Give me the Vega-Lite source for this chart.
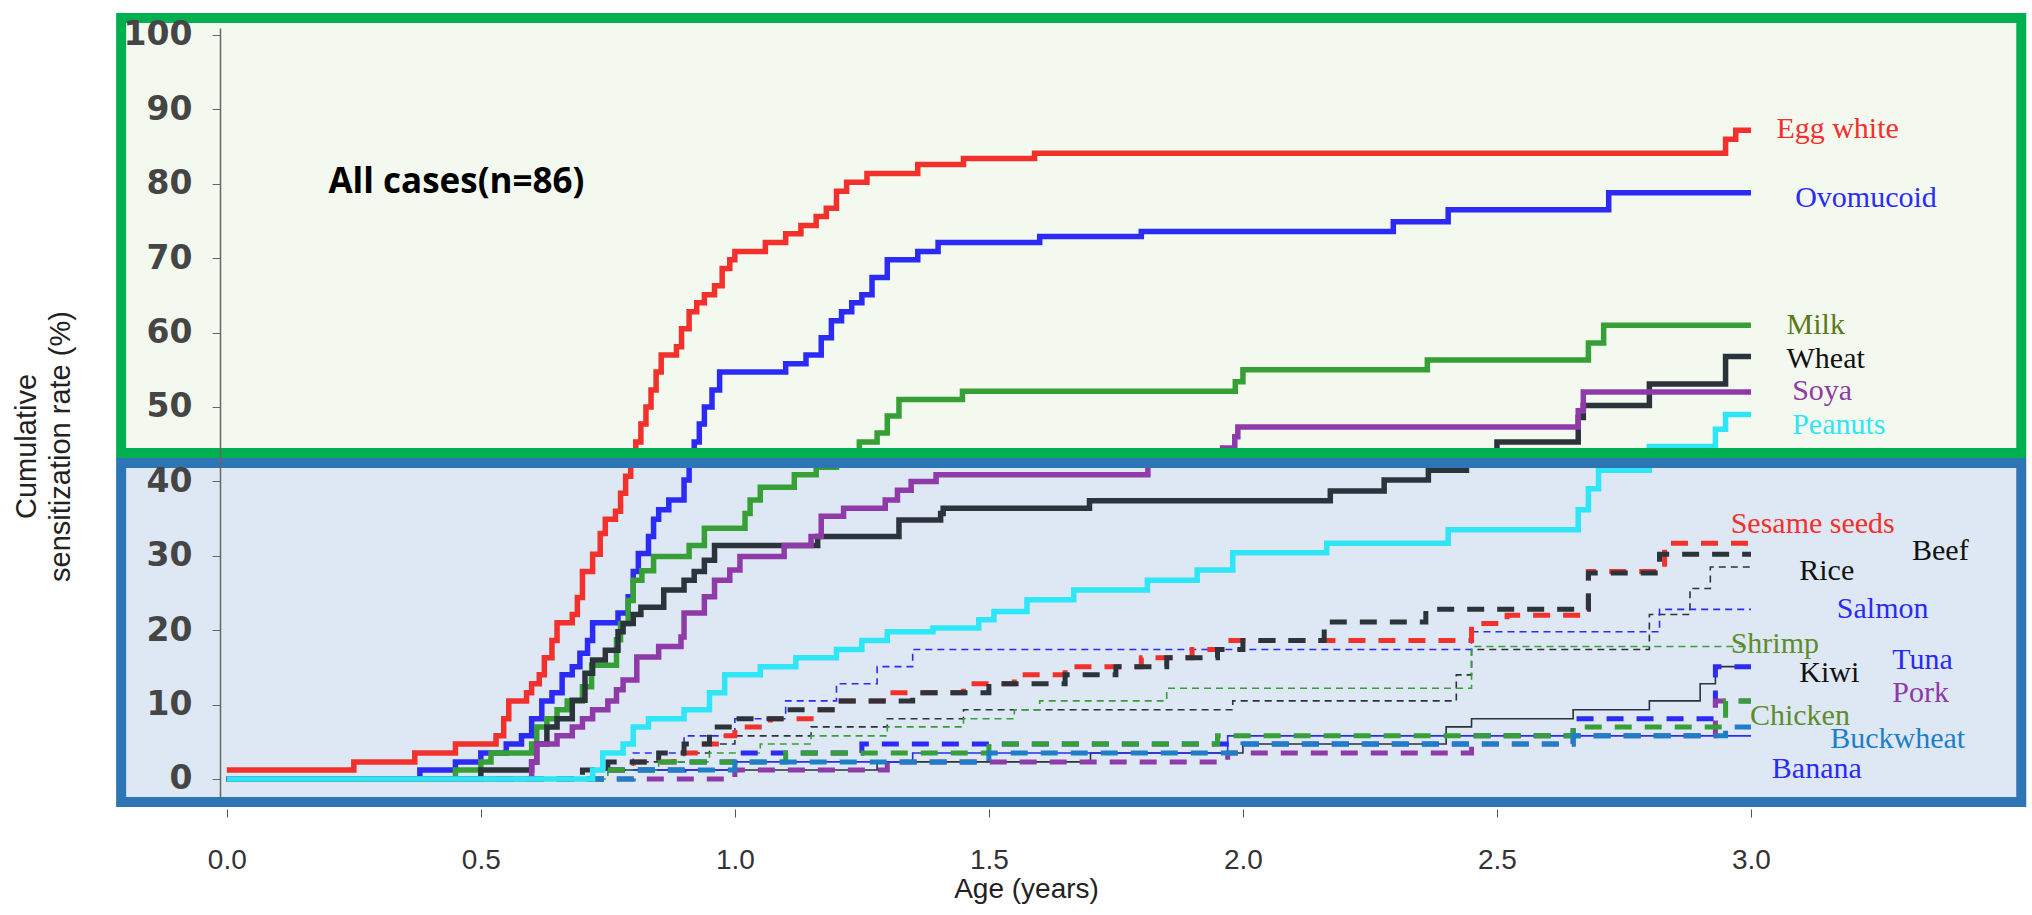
{
  "$schema": "https://vega.github.io/schema/vega-lite/v6.json",
  "width": 1785,
  "height": 769,
  "autosize": {"type": "none"},
  "padding": {"left": 220, "top": 28, "right": 27, "bottom": 118},
  "background": "white",
  "config": {"view": {"stroke": null}},
  "datasets": {
    "curves": [
      {"food":"Egg white","age":0,"rate":1.2},{"food":"Egg white","age":0.25,"rate":2.3},{"food":"Egg white","age":0.37,"rate":3.5},{"food":"Egg white","age":0.45,"rate":4.7},{"food":"Egg white","age":0.53,"rate":5.8},{"food":"Egg white","age":0.545,"rate":8.1},{"food":"Egg white","age":0.555,"rate":10.5},{"food":"Egg white","age":0.59,"rate":11.6},{"food":"Egg white","age":0.6,"rate":12.8},{"food":"Egg white","age":0.615,"rate":14},{"food":"Egg white","age":0.625,"rate":16.3},{"food":"Egg white","age":0.64,"rate":18.6},{"food":"Egg white","age":0.65,"rate":21},{"food":"Egg white","age":0.68,"rate":22.1},{"food":"Egg white","age":0.69,"rate":24.4},{"food":"Egg white","age":0.7,"rate":27.9},{"food":"Egg white","age":0.72,"rate":30.2},{"food":"Egg white","age":0.735,"rate":33},{"food":"Egg white","age":0.745,"rate":34.9},{"food":"Egg white","age":0.765,"rate":36},{"food":"Egg white","age":0.775,"rate":38.4},{"food":"Egg white","age":0.785,"rate":40.7},{"food":"Egg white","age":0.795,"rate":43},{"food":"Egg white","age":0.805,"rate":45.3},{"food":"Egg white","age":0.815,"rate":47.7},{"food":"Egg white","age":0.825,"rate":50},{"food":"Egg white","age":0.835,"rate":52.3},{"food":"Egg white","age":0.845,"rate":54.7},{"food":"Egg white","age":0.855,"rate":57},{"food":"Egg white","age":0.885,"rate":58.1},{"food":"Egg white","age":0.895,"rate":60.5},{"food":"Egg white","age":0.91,"rate":62.8},{"food":"Egg white","age":0.925,"rate":64},{"food":"Egg white","age":0.94,"rate":65.1},{"food":"Egg white","age":0.96,"rate":66.3},{"food":"Egg white","age":0.975,"rate":68.6},{"food":"Egg white","age":0.99,"rate":69.8},{"food":"Egg white","age":1.0,"rate":70.9},{"food":"Egg white","age":1.06,"rate":72.1},{"food":"Egg white","age":1.1,"rate":73.3},{"food":"Egg white","age":1.13,"rate":74.4},{"food":"Egg white","age":1.16,"rate":75.6},{"food":"Egg white","age":1.18,"rate":76.7},{"food":"Egg white","age":1.2,"rate":79},{"food":"Egg white","age":1.22,"rate":80.2},{"food":"Egg white","age":1.26,"rate":81.4},{"food":"Egg white","age":1.36,"rate":82.6},{"food":"Egg white","age":1.45,"rate":83.4},{"food":"Egg white","age":1.59,"rate":84.1},{"food":"Egg white","age":2.95,"rate":86},{"food":"Egg white","age":2.97,"rate":87.2},{"food":"Egg white","age":3.0,"rate":87.2},

      {"food":"Ovomucoid","age":0,"rate":0},{"food":"Ovomucoid","age":0.38,"rate":1.2},{"food":"Ovomucoid","age":0.45,"rate":2.3},{"food":"Ovomucoid","age":0.5,"rate":3.5},{"food":"Ovomucoid","age":0.55,"rate":4.7},{"food":"Ovomucoid","age":0.58,"rate":5.8},{"food":"Ovomucoid","age":0.6,"rate":8.1},{"food":"Ovomucoid","age":0.62,"rate":10.5},{"food":"Ovomucoid","age":0.64,"rate":11.6},{"food":"Ovomucoid","age":0.66,"rate":14},{"food":"Ovomucoid","age":0.68,"rate":15.1},{"food":"Ovomucoid","age":0.695,"rate":16.9},{"food":"Ovomucoid","age":0.71,"rate":18.6},{"food":"Ovomucoid","age":0.72,"rate":21},{"food":"Ovomucoid","age":0.77,"rate":22.3},{"food":"Ovomucoid","age":0.79,"rate":24.5},{"food":"Ovomucoid","age":0.8,"rate":27.9},{"food":"Ovomucoid","age":0.81,"rate":30.3},{"food":"Ovomucoid","age":0.83,"rate":32.6},{"food":"Ovomucoid","age":0.84,"rate":34.9},{"food":"Ovomucoid","age":0.85,"rate":36.2},{"food":"Ovomucoid","age":0.87,"rate":37.5},{"food":"Ovomucoid","age":0.9,"rate":40.2},{"food":"Ovomucoid","age":0.91,"rate":43},{"food":"Ovomucoid","age":0.92,"rate":45.3},{"food":"Ovomucoid","age":0.93,"rate":47.7},{"food":"Ovomucoid","age":0.94,"rate":50},{"food":"Ovomucoid","age":0.955,"rate":52.3},{"food":"Ovomucoid","age":0.97,"rate":54.7},{"food":"Ovomucoid","age":1.1,"rate":55.8},{"food":"Ovomucoid","age":1.14,"rate":57},{"food":"Ovomucoid","age":1.17,"rate":59.3},{"food":"Ovomucoid","age":1.19,"rate":61.6},{"food":"Ovomucoid","age":1.21,"rate":62.8},{"food":"Ovomucoid","age":1.23,"rate":64},{"food":"Ovomucoid","age":1.25,"rate":65.1},{"food":"Ovomucoid","age":1.27,"rate":67.4},{"food":"Ovomucoid","age":1.3,"rate":69.8},{"food":"Ovomucoid","age":1.36,"rate":70.9},{"food":"Ovomucoid","age":1.4,"rate":72.1},{"food":"Ovomucoid","age":1.6,"rate":72.9},{"food":"Ovomucoid","age":1.8,"rate":73.6},{"food":"Ovomucoid","age":2.296,"rate":74.9},{"food":"Ovomucoid","age":2.404,"rate":76.5},{"food":"Ovomucoid","age":2.72,"rate":78.8},{"food":"Ovomucoid","age":3.0,"rate":78.8},

      {"food":"Milk","age":0,"rate":0},{"food":"Milk","age":0.45,"rate":1.2},{"food":"Milk","age":0.5,"rate":2.3},{"food":"Milk","age":0.52,"rate":3.5},{"food":"Milk","age":0.6,"rate":4.7},{"food":"Milk","age":0.61,"rate":7},{"food":"Milk","age":0.63,"rate":8.1},{"food":"Milk","age":0.65,"rate":9.3},{"food":"Milk","age":0.67,"rate":10.5},{"food":"Milk","age":0.7,"rate":12.4},{"food":"Milk","age":0.718,"rate":15.3},{"food":"Milk","age":0.767,"rate":18.7},{"food":"Milk","age":0.775,"rate":20.9},{"food":"Milk","age":0.79,"rate":24},{"food":"Milk","age":0.8,"rate":26.7},{"food":"Milk","age":0.817,"rate":28},{"food":"Milk","age":0.84,"rate":29.9},{"food":"Milk","age":0.91,"rate":31.4},{"food":"Milk","age":0.94,"rate":33.7},{"food":"Milk","age":1.02,"rate":35.7},{"food":"Milk","age":1.03,"rate":37.5},{"food":"Milk","age":1.05,"rate":39.2},{"food":"Milk","age":1.117,"rate":40.9},{"food":"Milk","age":1.16,"rate":41.9},{"food":"Milk","age":1.2,"rate":43},{"food":"Milk","age":1.245,"rate":45.3},{"food":"Milk","age":1.28,"rate":46.5},{"food":"Milk","age":1.3,"rate":48.8},{"food":"Milk","age":1.323,"rate":51},{"food":"Milk","age":1.448,"rate":52.1},{"food":"Milk","age":1.985,"rate":53.4},{"food":"Milk","age":2.0,"rate":55},{"food":"Milk","age":2.363,"rate":56.3},{"food":"Milk","age":2.68,"rate":58.6},{"food":"Milk","age":2.71,"rate":61},{"food":"Milk","age":3.0,"rate":61},

      {"food":"Wheat","age":0,"rate":0},{"food":"Wheat","age":0.5,"rate":1.2},{"food":"Wheat","age":0.6,"rate":2.3},{"food":"Wheat","age":0.61,"rate":4.7},{"food":"Wheat","age":0.63,"rate":7},{"food":"Wheat","age":0.65,"rate":8.1},{"food":"Wheat","age":0.68,"rate":10.6},{"food":"Wheat","age":0.705,"rate":14.2},{"food":"Wheat","age":0.72,"rate":16},{"food":"Wheat","age":0.745,"rate":17.3},{"food":"Wheat","age":0.77,"rate":19.8},{"food":"Wheat","age":0.78,"rate":20.9},{"food":"Wheat","age":0.8,"rate":22.1},{"food":"Wheat","age":0.815,"rate":23.1},{"food":"Wheat","age":0.86,"rate":25.4},{"food":"Wheat","age":0.9,"rate":26.7},{"food":"Wheat","age":0.92,"rate":27.9},{"food":"Wheat","age":0.94,"rate":29.4},{"food":"Wheat","age":0.96,"rate":31.4},{"food":"Wheat","age":1.163,"rate":32.6},{"food":"Wheat","age":1.323,"rate":34.8},{"food":"Wheat","age":1.405,"rate":35.7},{"food":"Wheat","age":1.41,"rate":36.4},{"food":"Wheat","age":1.698,"rate":37.4},{"food":"Wheat","age":2.172,"rate":38.7},{"food":"Wheat","age":2.278,"rate":40.2},{"food":"Wheat","age":2.365,"rate":41.5},{"food":"Wheat","age":2.44,"rate":43},{"food":"Wheat","age":2.5,"rate":45.3},{"food":"Wheat","age":2.66,"rate":48.6},{"food":"Wheat","age":2.67,"rate":50.2},{"food":"Wheat","age":2.8,"rate":53.1},{"food":"Wheat","age":2.95,"rate":56.8},{"food":"Wheat","age":3.0,"rate":56.8},

      {"food":"Soya","age":0,"rate":0},{"food":"Soya","age":0.6,"rate":2.3},{"food":"Soya","age":0.61,"rate":4.7},{"food":"Soya","age":0.65,"rate":5.8},{"food":"Soya","age":0.68,"rate":7},{"food":"Soya","age":0.7,"rate":8.1},{"food":"Soya","age":0.72,"rate":9.3},{"food":"Soya","age":0.75,"rate":10.5},{"food":"Soya","age":0.767,"rate":12},{"food":"Soya","age":0.78,"rate":13.3},{"food":"Soya","age":0.807,"rate":16.4},{"food":"Soya","age":0.85,"rate":17.8},{"food":"Soya","age":0.894,"rate":19.1},{"food":"Soya","age":0.9,"rate":22.3},{"food":"Soya","age":0.94,"rate":24.5},{"food":"Soya","age":0.96,"rate":26.7},{"food":"Soya","age":0.99,"rate":28.1},{"food":"Soya","age":1.01,"rate":29.9},{"food":"Soya","age":1.097,"rate":31.4},{"food":"Soya","age":1.15,"rate":32.6},{"food":"Soya","age":1.17,"rate":35.3},{"food":"Soya","age":1.214,"rate":36.4},{"food":"Soya","age":1.296,"rate":37.5},{"food":"Soya","age":1.32,"rate":38.8},{"food":"Soya","age":1.347,"rate":40},{"food":"Soya","age":1.396,"rate":40.9},{"food":"Soya","age":1.813,"rate":43},{"food":"Soya","age":1.96,"rate":44.5},{"food":"Soya","age":1.984,"rate":46},{"food":"Soya","age":1.99,"rate":47.3},{"food":"Soya","age":2.66,"rate":49.5},{"food":"Soya","age":2.67,"rate":52},{"food":"Soya","age":3.0,"rate":52},

      {"food":"Peanuts","age":0,"rate":0},{"food":"Peanuts","age":0.72,"rate":1.2},{"food":"Peanuts","age":0.74,"rate":3.5},{"food":"Peanuts","age":0.78,"rate":4.7},{"food":"Peanuts","age":0.8,"rate":7},{"food":"Peanuts","age":0.83,"rate":8.1},{"food":"Peanuts","age":0.9,"rate":9.3},{"food":"Peanuts","age":0.95,"rate":11.6},{"food":"Peanuts","age":0.98,"rate":14},{"food":"Peanuts","age":1.05,"rate":15.1},{"food":"Peanuts","age":1.12,"rate":16.3},{"food":"Peanuts","age":1.2,"rate":17.4},{"food":"Peanuts","age":1.25,"rate":18.6},{"food":"Peanuts","age":1.3,"rate":19.8},{"food":"Peanuts","age":1.39,"rate":20.3},{"food":"Peanuts","age":1.48,"rate":21.4},{"food":"Peanuts","age":1.51,"rate":22.5},{"food":"Peanuts","age":1.575,"rate":24.1},{"food":"Peanuts","age":1.667,"rate":25.4},{"food":"Peanuts","age":1.812,"rate":26.7},{"food":"Peanuts","age":1.91,"rate":28.1},{"food":"Peanuts","age":1.98,"rate":30.4},{"food":"Peanuts","age":2.165,"rate":31.7},{"food":"Peanuts","age":2.404,"rate":33.5},{"food":"Peanuts","age":2.66,"rate":36.2},{"food":"Peanuts","age":2.68,"rate":39},{"food":"Peanuts","age":2.7,"rate":41.5},{"food":"Peanuts","age":2.8,"rate":44.7},{"food":"Peanuts","age":2.93,"rate":47},{"food":"Peanuts","age":2.95,"rate":49},{"food":"Peanuts","age":3.0,"rate":49},

      {"food":"Sesame seeds","age":0,"rate":0},{"food":"Sesame seeds","age":0.72,"rate":1.2},{"food":"Sesame seeds","age":0.8,"rate":2.3},{"food":"Sesame seeds","age":0.88,"rate":3.5},{"food":"Sesame seeds","age":0.93,"rate":4.7},{"food":"Sesame seeds","age":0.97,"rate":5.8},{"food":"Sesame seeds","age":1.0,"rate":7},{"food":"Sesame seeds","age":1.07,"rate":8.1},{"food":"Sesame seeds","age":1.15,"rate":9.3},{"food":"Sesame seeds","age":1.2,"rate":10.5},{"food":"Sesame seeds","age":1.3,"rate":11.6},{"food":"Sesame seeds","age":1.45,"rate":12.8},{"food":"Sesame seeds","age":1.55,"rate":14},{"food":"Sesame seeds","age":1.65,"rate":15.1},{"food":"Sesame seeds","age":1.8,"rate":16.3},{"food":"Sesame seeds","age":1.9,"rate":17.4},{"food":"Sesame seeds","age":1.97,"rate":18.6},{"food":"Sesame seeds","age":2.45,"rate":20.9},{"food":"Sesame seeds","age":2.52,"rate":22},{"food":"Sesame seeds","age":2.68,"rate":27.9},{"food":"Sesame seeds","age":2.83,"rate":31.7},{"food":"Sesame seeds","age":3.0,"rate":31.7},

      {"food":"Beef","age":0,"rate":0},{"food":"Beef","age":0.7,"rate":1.2},{"food":"Beef","age":0.75,"rate":2.3},{"food":"Beef","age":0.85,"rate":3.5},{"food":"Beef","age":0.9,"rate":4.7},{"food":"Beef","age":0.95,"rate":7},{"food":"Beef","age":1.0,"rate":8.1},{"food":"Beef","age":1.1,"rate":9.3},{"food":"Beef","age":1.2,"rate":10.5},{"food":"Beef","age":1.35,"rate":11.6},{"food":"Beef","age":1.5,"rate":12.8},{"food":"Beef","age":1.65,"rate":14},{"food":"Beef","age":1.75,"rate":15.1},{"food":"Beef","age":1.85,"rate":16.3},{"food":"Beef","age":1.95,"rate":17.4},{"food":"Beef","age":2.0,"rate":18.6},{"food":"Beef","age":2.16,"rate":21.1},{"food":"Beef","age":2.36,"rate":22.8},{"food":"Beef","age":2.68,"rate":27.7},{"food":"Beef","age":2.82,"rate":30.2},{"food":"Beef","age":3.0,"rate":30.2},

      {"food":"Rice","age":0,"rate":0},{"food":"Rice","age":0.72,"rate":1.2},{"food":"Rice","age":0.8,"rate":2.3},{"food":"Rice","age":0.9,"rate":3.5},{"food":"Rice","age":0.95,"rate":4.7},{"food":"Rice","age":1.0,"rate":5.8},{"food":"Rice","age":1.15,"rate":7},{"food":"Rice","age":1.3,"rate":8.1},{"food":"Rice","age":1.45,"rate":9.3},{"food":"Rice","age":1.98,"rate":10.5},{"food":"Rice","age":2.42,"rate":14},{"food":"Rice","age":2.45,"rate":17.4},{"food":"Rice","age":2.8,"rate":22.1},{"food":"Rice","age":2.88,"rate":25.6},{"food":"Rice","age":2.92,"rate":28.5},{"food":"Rice","age":3.0,"rate":28.5},

      {"food":"Salmon","age":0,"rate":0},{"food":"Salmon","age":0.72,"rate":1.2},{"food":"Salmon","age":0.8,"rate":3.5},{"food":"Salmon","age":0.9,"rate":5.8},{"food":"Salmon","age":1.0,"rate":8.1},{"food":"Salmon","age":1.1,"rate":10.5},{"food":"Salmon","age":1.2,"rate":12.8},{"food":"Salmon","age":1.28,"rate":15.1},{"food":"Salmon","age":1.35,"rate":17.4},{"food":"Salmon","age":2.45,"rate":19.8},{"food":"Salmon","age":2.82,"rate":22.8},{"food":"Salmon","age":3.0,"rate":22.8},

      {"food":"Shrimp","age":0,"rate":0},{"food":"Shrimp","age":0.75,"rate":1.2},{"food":"Shrimp","age":0.85,"rate":2.3},{"food":"Shrimp","age":0.95,"rate":3.5},{"food":"Shrimp","age":1.05,"rate":4.7},{"food":"Shrimp","age":1.15,"rate":5.8},{"food":"Shrimp","age":1.3,"rate":7},{"food":"Shrimp","age":1.45,"rate":8.1},{"food":"Shrimp","age":1.55,"rate":9.3},{"food":"Shrimp","age":1.6,"rate":10.5},{"food":"Shrimp","age":1.85,"rate":12.2},{"food":"Shrimp","age":2.45,"rate":17.8},{"food":"Shrimp","age":3.0,"rate":17.8},

      {"food":"Tuna","age":0,"rate":0},{"food":"Tuna","age":0.75,"rate":1.2},{"food":"Tuna","age":0.9,"rate":2.3},{"food":"Tuna","age":1.0,"rate":3.5},{"food":"Tuna","age":1.25,"rate":4.7},{"food":"Tuna","age":2.45,"rate":5.8},{"food":"Tuna","age":2.65,"rate":8.1},{"food":"Tuna","age":2.93,"rate":15.1},{"food":"Tuna","age":3.0,"rate":15.1},

      {"food":"Kiwi","age":0,"rate":0},{"food":"Kiwi","age":0.72,"rate":1.2},{"food":"Kiwi","age":1.28,"rate":2.3},{"food":"Kiwi","age":1.7,"rate":3.5},{"food":"Kiwi","age":2.0,"rate":4.7},{"food":"Kiwi","age":2.4,"rate":7},{"food":"Kiwi","age":2.45,"rate":8.1},{"food":"Kiwi","age":2.65,"rate":9.3},{"food":"Kiwi","age":2.8,"rate":10.5},{"food":"Kiwi","age":2.9,"rate":12.8},{"food":"Kiwi","age":2.93,"rate":15.1},{"food":"Kiwi","age":3.0,"rate":15.1},

      {"food":"Pork","age":0,"rate":0},{"food":"Pork","age":1.0,"rate":1.2},{"food":"Pork","age":1.3,"rate":2.3},{"food":"Pork","age":1.97,"rate":3.5},{"food":"Pork","age":2.45,"rate":4.7},{"food":"Pork","age":2.65,"rate":5.8},{"food":"Pork","age":2.93,"rate":10.5},{"food":"Pork","age":3.0,"rate":10.5},

      {"food":"Chicken","age":0,"rate":0},{"food":"Chicken","age":0.75,"rate":1.2},{"food":"Chicken","age":0.85,"rate":2.3},{"food":"Chicken","age":1.1,"rate":3.5},{"food":"Chicken","age":1.5,"rate":4.7},{"food":"Chicken","age":1.95,"rate":5.8},{"food":"Chicken","age":2.65,"rate":7},{"food":"Chicken","age":2.95,"rate":10.5},{"food":"Chicken","age":3.0,"rate":10.5},

      {"food":"Buckwheat","age":0,"rate":0},{"food":"Buckwheat","age":0.8,"rate":1.2},{"food":"Buckwheat","age":1.0,"rate":2.3},{"food":"Buckwheat","age":1.5,"rate":3.5},{"food":"Buckwheat","age":2.0,"rate":4.7},{"food":"Buckwheat","age":2.65,"rate":5.8},{"food":"Buckwheat","age":2.95,"rate":7},{"food":"Buckwheat","age":3.0,"rate":7},

      {"food":"Banana","age":0,"rate":0},{"food":"Banana","age":0.72,"rate":1.2},{"food":"Banana","age":1.0,"rate":2.3},{"food":"Banana","age":1.35,"rate":3.5},{"food":"Banana","age":1.97,"rate":5.8},{"food":"Banana","age":3.0,"rate":5.8}
    ],
    "labels": [
      {"food":"Egg white","age":3.05,"rate":87.3},{"food":"Ovomucoid","age":3.087,"rate":78.1},{"food":"Milk","age":3.07,"rate":61.0},{"food":"Wheat","age":3.07,"rate":56.5},{"food":"Soya","age":3.081,"rate":52.1},{"food":"Peanuts","age":3.081,"rate":47.6},{"food":"Sesame seeds","age":2.96,"rate":34.3},{"food":"Beef","age":3.317,"rate":30.7},{"food":"Rice","age":3.095,"rate":27.9},{"food":"Salmon","age":3.169,"rate":22.8},{"food":"Shrimp","age":2.96,"rate":18.1},{"food":"Tuna","age":3.278,"rate":16.0},{"food":"Kiwi","age":3.095,"rate":14.3},{"food":"Pork","age":3.278,"rate":11.6},{"food":"Chicken","age":2.998,"rate":8.4},{"food":"Buckwheat","age":3.156,"rate":5.4},{"food":"Banana","age":3.041,"rate":1.4}
    ]
  },
  "layer": [
    {
      "data": {"values": [{}]},
      "mark": {"type": "rect", "fill": "#f3f9ef", "clip": false},
      "encoding": {
        "x": {"datum": -0.208, "type": "quantitative", "scale": {"domain": [-0.0134, 3.5], "nice": false, "zero": false}},
        "x2": {"datum": 3.532},
        "y": {"datum": 43.8, "type": "quantitative", "scale": {"domain": [-2.42, 100.94], "nice": false, "zero": false}},
        "y2": {"datum": 102.28}
      }
    },
    {
      "data": {"values": [{}]},
      "mark": {"type": "rect", "fill": "#dde8f4", "clip": false},
      "encoding": {
        "x": {"datum": -0.208, "type": "quantitative"},
        "x2": {"datum": 3.532},
        "y": {"datum": -3.09, "type": "quantitative"},
        "y2": {"datum": 42.47}
      }
    },
    {
      "data": {"name": "curves"},
      "transform": [{"filter": {"field": "food", "oneOf": ["Kiwi", "Banana"]}}],
      "mark": {"type": "line", "interpolate": "step-after", "strokeWidth": 1.6},
      "encoding": {
        "x": {"field": "age", "type": "quantitative"},
        "y": {"field": "rate", "type": "quantitative"},
        "stroke": {"field": "food", "type": "nominal", "legend": null}
      }
    },
    {
      "data": {"name": "curves"},
      "transform": [{"filter": {"field": "food", "oneOf": ["Rice", "Salmon", "Shrimp"]}}],
      "mark": {"type": "line", "interpolate": "step-after", "strokeWidth": 1.6, "strokeDash": [7, 5]},
      "encoding": {
        "x": {"field": "age", "type": "quantitative"},
        "y": {"field": "rate", "type": "quantitative"},
        "stroke": {"field": "food", "type": "nominal", "legend": null}
      }
    },
    {
      "data": {"name": "curves"},
      "transform": [{"filter": {"field": "food", "oneOf": ["Pork", "Chicken", "Buckwheat", "Tuna", "Beef", "Sesame seeds"]}}],
      "mark": {"type": "line", "interpolate": "step-after", "strokeWidth": 5, "strokeDash": [17, 13]},
      "encoding": {
        "x": {"field": "age", "type": "quantitative"},
        "y": {"field": "rate", "type": "quantitative"},
        "stroke": {"field": "food", "type": "nominal", "legend": null}
      }
    },
    {
      "data": {"name": "curves"},
      "transform": [{"filter": {"field": "food", "oneOf": ["Peanuts", "Soya", "Wheat", "Milk", "Ovomucoid", "Egg white"]}}],
      "mark": {"type": "line", "interpolate": "step-after", "strokeWidth": 5.5},
      "encoding": {
        "x": {
          "field": "age", "type": "quantitative",
          "axis": {
            "values": [0, 0.5, 1, 1.5, 2, 2.5, 3], "format": ".1f", "grid": false,
            "domain": false, "offset": 12, "tickSize": 8, "tickColor": "#555",
            "labelFont": "Liberation Sans", "labelFontSize": 28, "labelColor": "#333", "labelPadding": 29,
            "title": "Age (years)", "titleFont": "Liberation Sans", "titleFontSize": 28, "titleFontWeight": "normal",
            "titleColor": "#222", "titleX": 806, "titleY": 66, "titleBaseline": "top", "zindex": 1
          }
        },
        "y": {
          "field": "rate", "type": "quantitative",
          "axis": {
            "values": [0, 10, 20, 30, 40, 50, 60, 70, 80, 90, 100], "grid": false,
            "domainColor": "#666", "domainWidth": 1.5, "tickColor": "#666", "tickSize": 8,
            "labelFont": "DejaVu Sans", "labelFontSize": 33, "labelFontWeight": "bold", "labelColor": "#454545", "labelPadding": 20,
            "title": ["Cumulative", "sensitization rate (%)"], "titleFont": "Liberation Sans", "titleFontSize": 29,
            "titleFontWeight": "normal", "titleColor": "#222", "titleLineHeight": 34,
            "titleX": -179, "titleY": 418, "titleAlign": "center", "titleBaseline": "bottom", "zindex": 1
          }
        },
        "stroke": {
          "field": "food", "type": "nominal", "legend": null,
          "scale": {
            "domain": ["Egg white", "Ovomucoid", "Milk", "Wheat", "Soya", "Peanuts", "Sesame seeds", "Beef", "Rice", "Salmon", "Shrimp", "Tuna", "Kiwi", "Pork", "Chicken", "Buckwheat", "Banana"],
            "range": ["#f2302c", "#2b2bf5", "#36a036", "#2b333b", "#8e3aa8", "#2ee6f6", "#f2302c", "#2b333b", "#2b333b", "#2b2bf5", "#36a036", "#2b2bf5", "#2b333b", "#8e3aa8", "#36a036", "#1f7fc6", "#2b2bf5"]
          }
        }
      }
    },
    {
      "data": {"values": [{}]},
      "mark": {"type": "rect", "filled": false, "stroke": "#00b050", "strokeWidth": 10, "clip": false},
      "encoding": {
        "x": {"datum": -0.208, "type": "quantitative"},
        "x2": {"datum": 3.532},
        "y": {"datum": 43.8, "type": "quantitative"},
        "y2": {"datum": 102.28}
      }
    },
    {
      "data": {"values": [{}]},
      "mark": {"type": "rect", "filled": false, "stroke": "#2e75b6", "strokeWidth": 10, "clip": false},
      "encoding": {
        "x": {"datum": -0.208, "type": "quantitative"},
        "x2": {"datum": 3.532},
        "y": {"datum": -3.09, "type": "quantitative"},
        "y2": {"datum": 42.47}
      }
    },
    {
      "data": {"name": "labels"},
      "mark": {"type": "text", "align": "left", "baseline": "middle", "font": "Liberation Serif", "fontSize": 30, "clip": false},
      "encoding": {
        "x": {"field": "age", "type": "quantitative"},
        "y": {"field": "rate", "type": "quantitative"},
        "text": {"field": "food"},
        "fill": {
          "field": "food", "type": "nominal", "legend": null,
          "scale": {
            "domain": ["Egg white", "Ovomucoid", "Milk", "Wheat", "Soya", "Peanuts", "Sesame seeds", "Beef", "Rice", "Salmon", "Shrimp", "Tuna", "Kiwi", "Pork", "Chicken", "Buckwheat", "Banana"],
            "range": ["#f2302c", "#2b2bf5", "#5a7a1a", "#111111", "#8e3aa8", "#2ee6f6", "#f2302c", "#111111", "#111111", "#2b2bf5", "#5e8c2e", "#2b2bf5", "#111111", "#8e3aa8", "#5e8c2e", "#1f7fc6", "#2b2bf5"]
          }
        }
      }
    },
    {
      "data": {"values": [{}]},
      "mark": {"type": "text", "align": "left", "baseline": "middle", "font": "Open Sans", "fontWeight": "bold", "fontSize": 35, "color": "#000000", "text": "All cases(n=86)"},
      "encoding": {
        "x": {"datum": 0.2, "type": "quantitative"},
        "y": {"datum": 80.3, "type": "quantitative"}
      }
    }
  ]
}
